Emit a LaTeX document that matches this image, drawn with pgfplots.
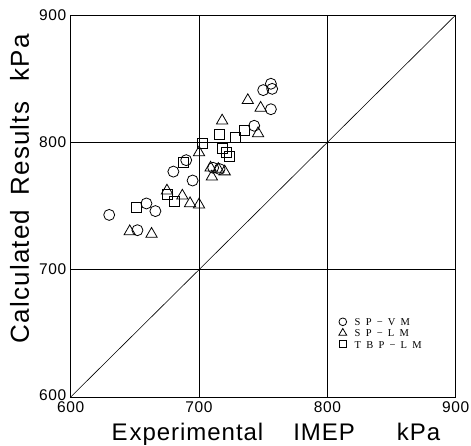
\documentclass[border=0pt]{standalone}
\usepackage{pgfplots}
\pgfplotsset{compat=1.18}
\usepackage{fontspec}
\setmainfont{Liberation Sans}
\newfontfamily\legfont{Liberation Serif}
\newcommand{\lsp}{\hspace{5.2pt}}
\begin{document}
\begin{tikzpicture}
\useasboundingbox (-70.7pt,-49pt) rectangle (400.3pt,397pt);
\begin{axis}[
  at={(0pt,0pt)}, anchor=south west,
  scale only axis, width=385pt, height=382pt,
  xmin=600, xmax=900, ymin=600, ymax=900,
  xtick={600,700,800,900}, ytick={600,700,800,900},
  xticklabels={600,700,800,\raisebox{12pt}{900}},
  yticklabels={\raisebox{3pt}{600},700,800,900},
  /pgf/number format/assume math mode=true,
  tick label style={font=\fontsize{15.5}{15.5}\selectfont\addfontfeature{LetterSpace=4}},
  xticklabel style={yshift=-1pt},
  yticklabel style={xshift=-1pt},
  major tick length=0pt,
  grid=major, major grid style={black, line width=0.6pt},
  axis line style={black, line width=0.9pt},
  xlabel={E\hspace{2pt}xperimental\hspace{30pt}IMEP\hspace{42pt}kPa},
  ylabel={Calculated\hspace{14pt}Results\hspace{20pt}kPa},
  xlabel style={at={(axis description cs:0.533,0)}, anchor=base, yshift=-44pt,
    font=\fontsize{24}{24}\selectfont\addfontfeature{LetterSpace=4}},
  ylabel style={at={(axis description cs:0,0.545)}, anchor=base, yshift=41.7pt,
    font=\fontsize{26}{26}\selectfont\addfontfeature{LetterSpace=4.6}},
  legend style={draw=none, fill=none, inner sep=0pt, row sep=0pt,
    at={(axis description cs:0.696,0.212)}, anchor=north west,
    nodes={inner sep=0pt, text height=9.5pt, text depth=1.7pt},
    font=\legfont\fontsize{10.5}{11}\selectfont},
  legend cell align=left,
  legend image code/.code={\draw[mark repeat=2,mark phase=2] plot coordinates {(-4pt,0pt)(0pt,0pt)(4pt,0pt)};},
  legend image post style={/tikz/every mark/.append style={scale=0.7}},
]
\addplot[black, line width=0.6pt, forget plot] coordinates {(600,600)(900,900)};
\addplot[only marks, mark=o, mark size=5.5pt, mark options={line width=0.8pt, fill=white}] coordinates {
(630,743) (652,731) (659,752) (666,746) (680,777) (690,786) (695,770)
(711,780) (716,779) (743,813) (750,841) (756,846) (757,842) (756,826)
};
\addlegendentry{\hspace{8pt}S\lsp P\lsp −\lsp V\lsp M}
\addplot[only marks, mark=triangle, mark size=6.5pt, mark options={line width=0.8pt}] coordinates {
(646,730) (663,728) (675,762) (687,758) (693,752) (700,751) (700,792)
(709,780) (715,779) (720,777) (710,773) (718,817) (738,833) (746,807) (748,827)
};
\addlegendentry{\hspace{8pt}S\lsp P\lsp −\lsp L\lsp M}
\addplot[only marks, mark=square, mark size=5pt, mark options={line width=0.8pt}] coordinates {
(651,749) (675,759) (681,754) (688,784) (703,799) (716,806) (718,795)
(721,792) (724,789) (728,804) (735,809)
};
\addlegendentry{\hspace{8pt}T\lsp B\lsp P\lsp −\lsp L\lsp M}
\end{axis}
\end{tikzpicture}
\end{document}
